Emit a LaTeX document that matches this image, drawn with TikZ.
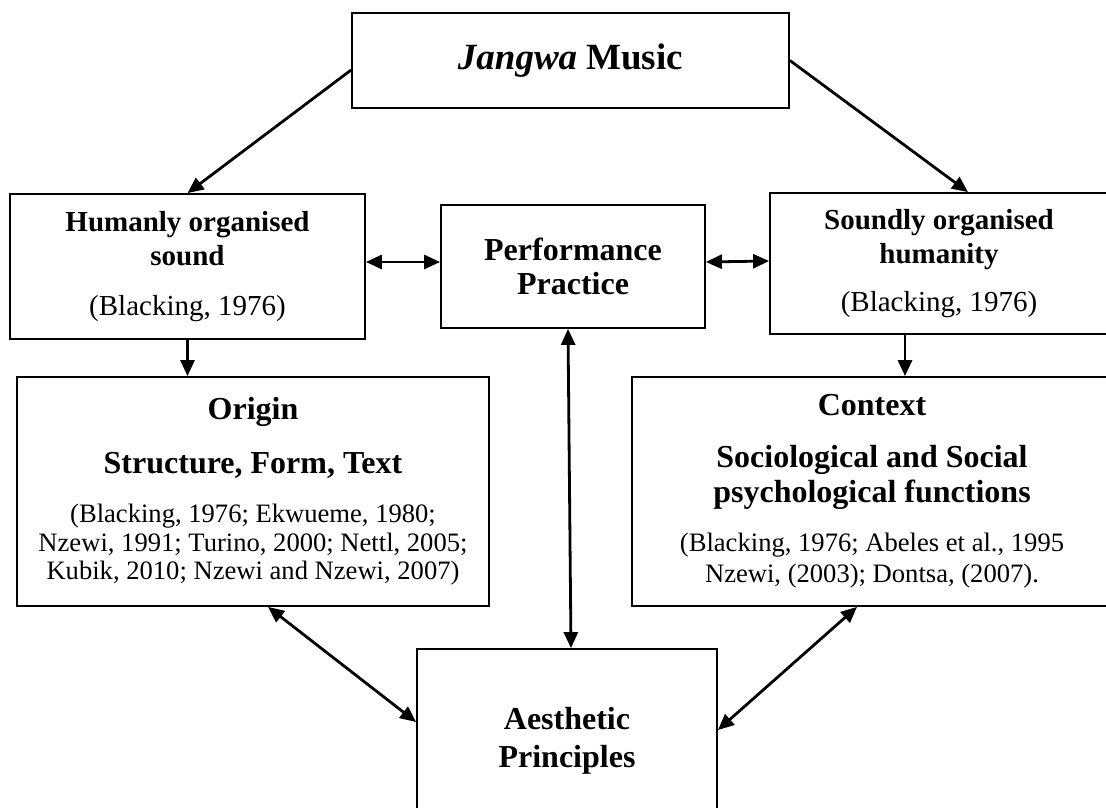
\documentclass[tikz,border=0pt]{standalone}
\usepackage{fontspec}
\setmainfont{Liberation Serif}
\usetikzlibrary{arrows.meta}
\newcommand{\headfont}{\fontsize{16}{15}\selectfont\bfseries}
\newcommand{\tightlines}{\lineskiplimit=-20pt\relax}

\begin{document}
\begin{tikzpicture}[x=0.5pt,y=-0.5pt,
        box/.style={draw, line width=0.9pt, inner sep=0pt, align=center},
        link/.style={line width=1.4pt, -{Triangle[length=8pt,width=7pt]}},
        both/.style={line width=1.4pt, {Triangle[length=8pt,width=7pt]}-{Triangle[length=8pt,width=7pt]}}]
        \useasboundingbox (0,0) rectangle (1106,807);
        \node[box, minimum width=218.5pt, minimum height=47.5pt, font=\fontsize{18.5}{20}\selectfont\bfseries] (jangwa) at (570.5,60.5) {\textit{Jangwa} Music};
        \node[box, minimum width=177.5pt, minimum height=72.5pt, font=\fontsize{14.5}{17}\selectfont\tightlines] (human) at (187.5,266.5)
            {\textbf{Humanly organised}\\\textbf{sound}\\[8pt](Blacking, 1976)};
        \node[box, minimum width=132pt, minimum height=61.5pt, font=\fontsize{16}{17.2}\selectfont\bfseries\tightlines] (perf) at (573,266.5) {Performance\\Practice};
        \node[box, minimum width=169pt, minimum height=70.5pt, font=\fontsize{14.5}{17}\selectfont\tightlines] (sound) at (939,263.5)
            {\textbf{Soundly organised}\\\textbf{humanity}\\[7pt](Blacking, 1976)};
        \node[box, minimum width=236pt, minimum height=114.5pt, font=\fontsize{13.3}{14.3}\selectfont\tightlines] (origin) at (253,491.5)
            {\headfont Origin\\[12.5pt]
             \headfont Structure, Form, Text\\[10.4pt]
             (Blacking, 1976; Ekwueme, 1980;\\
             Nzewi, 1991; Turino, 2000; Nettl, 2005;\\
             Kubik, 2010; Nzewi and Nzewi, 2007)};
        \node[box, minimum width=240pt, minimum height=114.5pt, font=\fontsize{13.3}{15.5}\selectfont\tightlines] (context) at (872,491.5)
            {\headfont Context\\[10.5pt]
             \headfont Sociological and Social\\[1.8pt]
             \headfont psychological functions\\[9.2pt]
             (Blacking, 1976; Abeles et al., 1995\\
             Nzewi, (2003); Dontsa, (2007).};
        \node[box, minimum width=150pt, minimum height=92pt, font=\fontsize{16}{19}\selectfont\bfseries\tightlines] (aes) at (567,741) {Aesthetic\\Principles};
        \coordinate (hdown) at (human.south);
        \coordinate (sdown) at ([xshift=-17pt]sound.south);
        \draw[link] ([yshift=-4.75pt]jangwa.west) -- (human.north);
        \draw[link] (jangwa.east) -- ([xshift=14.5pt]sound.north);
        \draw[both] ([yshift=2.25pt]human.east) -- ([yshift=2.25pt]perf.west);
        \draw[both] ([yshift=2.25pt]perf.east) -- ([yshift=1.25pt]sound.west);
        \draw[link] (hdown) -- (hdown |- origin.north);
        \draw[link] (sdown) -- (sdown |- context.north);
        \draw[both] ([xshift=-2.5pt]perf.south) -- ([xshift=2pt]aes.north);
        \draw[both] ([xshift=7.5pt]origin.south) -- ([yshift=9.5pt]aes.west);
        \draw[both] ([xshift=-7.5pt]context.south) -- ([yshift=5.5pt]aes.east);
    \end{tikzpicture}
\end{document}
